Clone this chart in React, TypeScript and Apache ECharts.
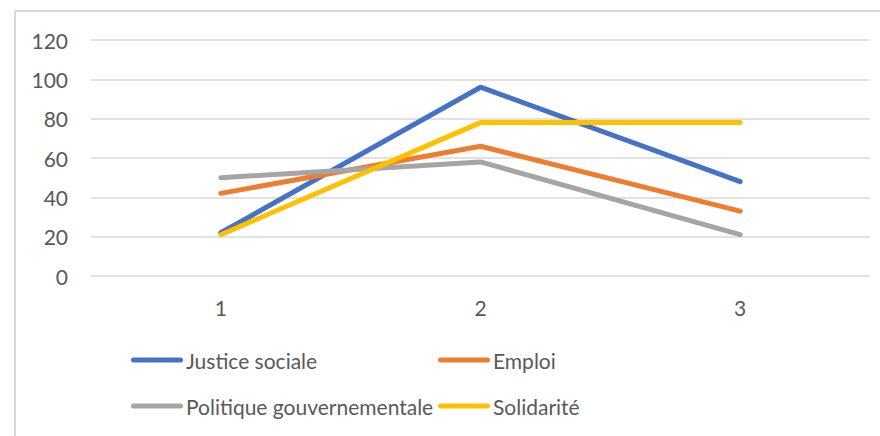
import React, { useEffect, useRef } from "react";
import * as echarts from "echarts";

const categories = ["1", "2", "3"];
const seriesNames = ["Justice sociale", "Emploi", "Politique gouvernementale", "Solidarité"];
const justiceSociale = [22, 96, 48];
const emploi = [42, 66, 33];
const politiqueGouv = [50, 58, 21];
const solidarite = [21, 78, 78];
const colors = ["#4472C4", "#ED7D31", "#A5A5A5", "#FFC000"];
const yTicks = { min: 0, max: 120, interval: 20 };

const FONT = "Lato, 'Noto Sans', sans-serif";
const TEXT = "#595959";
const ICON = "path://M2.5,0 H49.5 A2.5,2.5 0 0 1 49.5,5 H2.5 A2.5,2.5 0 0 1 2.5,0 Z";

export default function App() {
  const ref = useRef<HTMLDivElement>(null);
  useEffect(() => {
    if (!ref.current) return;
    const chart = echarts.init(ref.current, undefined, { renderer: "svg" });
    const values = [justiceSociale, emploi, politiqueGouv, solidarite];
    const legendPos = [
      { left: 131, top: 347 },
      { left: 438, top: 347 },
      { left: 131, top: 393 },
      { left: 438, top: 393 },
    ];
    chart.setOption({
      animation: false,
      backgroundColor: "#ffffff",
      textStyle: { fontFamily: FONT },
      graphic: [
        {
          type: "rect",
          shape: { x: 15, y: 11, width: 900, height: 500 },
          style: { fill: "none", stroke: "#D9D9D9", lineWidth: 2 },
          silent: true,
        },
      ],
      grid: { left: 91, right: 10, top: 40, bottom: 160, containLabel: false },
      legend: seriesNames.map((n, i) => ({
        data: [n],
        left: legendPos[i].left,
        top: legendPos[i].top,
        icon: ICON,
        itemWidth: 52,
        itemHeight: 5,
        itemGap: 0,
        padding: 0,
        selectedMode: false,
        textStyle: { fontFamily: FONT, fontSize: 21, color: TEXT, padding: [0, 0, 0, -2], lineHeight: 26 },
        itemStyle: { borderWidth: 0 },
      })),
      xAxis: {
        type: "category",
        data: categories,
        boundaryGap: true,
        axisLine: { show: false },
        axisTick: { show: false },
        axisLabel: { fontFamily: FONT, fontSize: 21, color: TEXT, margin: 21 },
      },
      yAxis: {
        type: "value",
        min: yTicks.min,
        max: yTicks.max,
        interval: yTicks.interval,
        axisLine: { show: false },
        axisTick: { show: false },
        axisLabel: { fontFamily: FONT, fontSize: 21, color: TEXT, margin: 23 },
        splitLine: { lineStyle: { color: "#D9D9D9", width: 1.5 } },
      },
      series: seriesNames.map((n, i) => ({
        name: n,
        type: "line",
        data: values[i],
        color: colors[i],
        symbol: "none",
        lineStyle: { width: 5, color: colors[i], cap: "round", join: "round" },
        itemStyle: { color: colors[i] },
      })),
    });
    return () => chart.dispose();
  }, []);
  return (
    <div
      ref={ref}
      style={{ position: "fixed", left: 0, top: 0, width: 880, height: 436, background: "#fff" }}
    />
  );
}
